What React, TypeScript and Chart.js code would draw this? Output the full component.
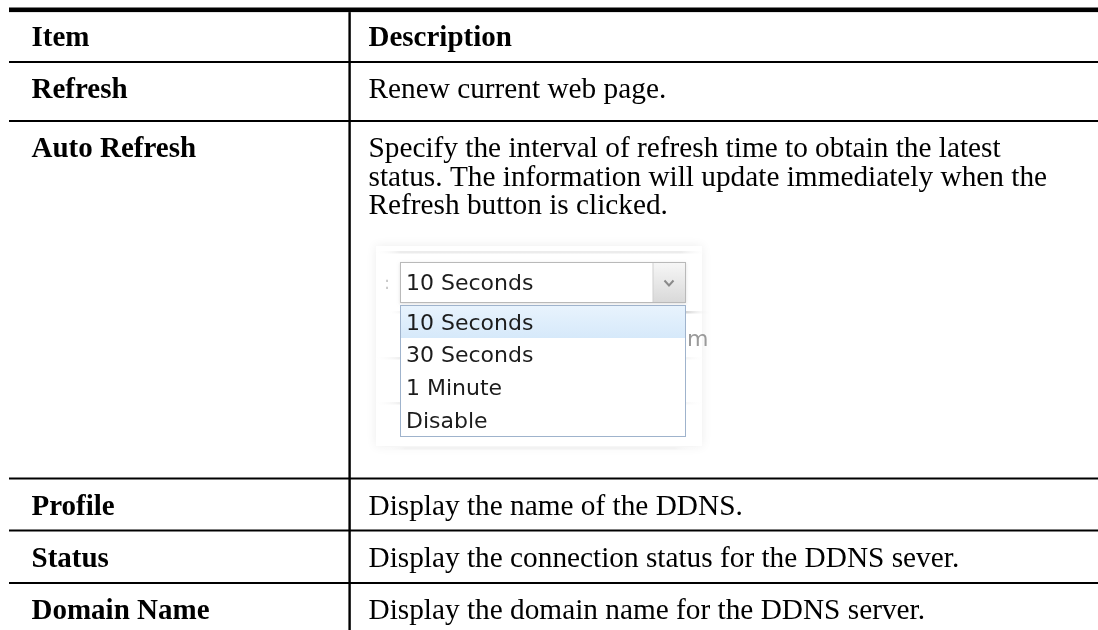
import React, { useEffect, useRef } from "react";
import { Chart, registerables } from "chart.js";

Chart.register(...registerables);

// ---- content ----
const HEADERS = ["Item", "Description"];
const ITEMS = ["Refresh", "Auto Refresh", "Profile", "Status", "Domain Name"];
const DESCRIPTIONS: string[][] = [
  ["Renew current web page."],
  [
    "Specify the interval of refresh time to obtain the latest",
    "status. The information will update immediately when the",
    "Refresh button is clicked.",
  ],
  ["Display the name of the DDNS."],
  ["Display the connection status for the DDNS sever."],
  ["Display the domain name for the DDNS server."],
];
const SELECTED_OPTION = "10 Seconds";
const DROPDOWN_OPTIONS = ["10 Seconds", "30 Seconds", "1 Minute", "Disable"];

// ---- layout (pixels) ----
const W = 1098;
const H = 630;
const TABLE_LEFT = 9;
const COL_DIVIDER = 349.6;
const ITEM_X = 31.5;
const DESC_X = 368.5;
const TOP_BORDER_Y = 7.5;
const TOP_BORDER_H = 4.6;
const HEADER_BASELINE = 45.7;
const ROW_LINES = [62, 121, 478.5, 530.5, 583]; // line above each row
const BASELINE_OFFSET = 36.3;
const LINE_SPACING = 28.2;
const SERIF = '"Liberation Serif", "Times New Roman", serif';
const SANS = '"DejaVu Sans", Verdana, sans-serif';

function drawDropdown(ctx: CanvasRenderingContext2D) {
  // faint panel behind the dropdown
  ctx.save();
  ctx.shadowColor = "rgba(0,0,0,0.08)";
  ctx.shadowBlur = 10;
  ctx.fillStyle = "#ffffff";
  ctx.fillRect(376, 246, 326, 200);
  ctx.restore();

  const faint: [number, string, number, number][] = [
    [252, "#ececec", 374, 708],
    [312, "#d4d4d4", 388, 712],
    [358, "#ededed", 374, 706],
    [403, "#eeeeee", 374, 704],
    [448, "#f2f2f2", 380, 700],
  ];
  for (const [y, c, x0, x1] of faint) {
    const g = ctx.createLinearGradient(x0, 0, x1, 0);
    g.addColorStop(0, "rgba(255,255,255,0)");
    g.addColorStop(0.08, c);
    g.addColorStop(0.92, c);
    g.addColorStop(1, "rgba(255,255,255,0)");
    ctx.fillStyle = g;
    ctx.fillRect(x0, y - 1, x1 - x0, 2.5);
  }

  // small ":" label remnant
  ctx.fillStyle = "#c8c8c8";
  ctx.font = `18px ${SANS}`;
  ctx.fillText(":", 384, 289);

  // select box
  ctx.save();
  ctx.shadowColor = "rgba(0,0,0,0.12)";
  ctx.shadowBlur = 3;
  ctx.shadowOffsetY = 1;
  ctx.fillStyle = "#ffffff";
  ctx.fillRect(400, 262, 286, 41);
  ctx.restore();
  const ag = ctx.createLinearGradient(0, 263, 0, 302);
  ag.addColorStop(0, "#f6f6f6");
  ag.addColorStop(1, "#d9d9d9");
  ctx.fillStyle = ag;
  ctx.fillRect(653, 263, 32, 39);
  ctx.fillStyle = "#cfcfcf";
  ctx.fillRect(652.5, 263, 1, 39);
  ctx.strokeStyle = "#b9b9b9";
  ctx.lineWidth = 1;
  ctx.strokeRect(400.5, 262.5, 285, 40);
  ctx.strokeStyle = "#8a8a8a";
  ctx.lineWidth = 2;
  ctx.beginPath();
  ctx.moveTo(664.5, 280.5);
  ctx.lineTo(669, 285.5);
  ctx.lineTo(673.5, 280.5);
  ctx.stroke();

  ctx.fillStyle = "#1c1c1c";
  ctx.font = `22px ${SANS}`;
  ctx.fillText(SELECTED_OPTION, 406, 289.5);

  // faint background text to the right of the list
  ctx.save();
  ctx.beginPath();
  ctx.rect(686, 320, 24, 40);
  ctx.clip();
  ctx.fillStyle = "#9a9a9a";
  ctx.font = `22px ${SANS}`;
  ctx.fillText("m", 687, 346);
  ctx.restore();

  // option list
  ctx.fillStyle = "#ffffff";
  ctx.fillRect(400, 305, 286, 132);
  const hg = ctx.createLinearGradient(0, 306, 0, 338);
  hg.addColorStop(0, "#e8f3fd");
  hg.addColorStop(1, "#d6e9fa");
  ctx.fillStyle = hg;
  ctx.fillRect(401, 306, 284, 32);
  ctx.strokeStyle = "#9fb3cc";
  ctx.lineWidth = 1;
  ctx.strokeRect(400.5, 305.5, 285, 131);

  const baselines = [329.5, 362.3, 395, 427.5];
  ctx.fillStyle = "#1c1c1c";
  ctx.font = `22px ${SANS}`;
  DROPDOWN_OPTIONS.forEach((o, i) => ctx.fillText(o, 406, baselines[i]));
}

const tablePlugin = {
  id: "docTable",
  afterDraw(chart: Chart) {
    const ctx = chart.ctx;
    ctx.save();
    ctx.fillStyle = "#ffffff";
    ctx.fillRect(0, 0, W, H);

    // borders
    ctx.fillStyle = "#000000";
    ctx.fillRect(TABLE_LEFT, TOP_BORDER_Y, W - TABLE_LEFT, TOP_BORDER_H);
    ROW_LINES.forEach((y) => ctx.fillRect(TABLE_LEFT, y - 1, W - TABLE_LEFT, 2));
    ctx.fillRect(COL_DIVIDER - 1.2, TOP_BORDER_Y + TOP_BORDER_H, 2.4, H);

    ctx.textBaseline = "alphabetic";
    // header
    ctx.fillStyle = "#000000";
    ctx.font = `bold 29px ${SERIF}`;
    ctx.fillText(HEADERS[0], ITEM_X, HEADER_BASELINE);
    ctx.fillText(HEADERS[1], DESC_X, HEADER_BASELINE);

    ITEMS.forEach((item, i) => {
      const base = ROW_LINES[i] + BASELINE_OFFSET;
      ctx.font = `bold 29px ${SERIF}`;
      ctx.fillStyle = "#000000";
      ctx.fillText(item, ITEM_X, base);
      ctx.font = `29.3px ${SERIF}`;
      DESCRIPTIONS[i].forEach((line, j) => ctx.fillText(line, DESC_X, base + j * LINE_SPACING));
    });

    drawDropdown(ctx);
    ctx.restore();
  },
};

export default function App() {
  const ref = useRef<HTMLCanvasElement | null>(null);
  useEffect(() => {
    if (!ref.current) return;
    const chart = new Chart(ref.current, {
      type: "bar",
      data: { labels: ITEMS, datasets: [] },
      options: {
        animation: false,
        responsive: false,
        events: [],
        layout: { padding: 0 },
        plugins: { legend: { display: false }, tooltip: { enabled: false } },
        scales: { x: { display: false }, y: { display: false } },
      },
      plugins: [tablePlugin as any],
    });
    return () => chart.destroy();
  }, []);
  return (
    <div style={{ position: "fixed", left: 0, top: 0, width: W, height: H, overflow: "hidden", background: "#fff" }}>
      <canvas ref={ref} width={W} height={H} style={{ display: "block", width: W, height: H }} />
    </div>
  );
}
